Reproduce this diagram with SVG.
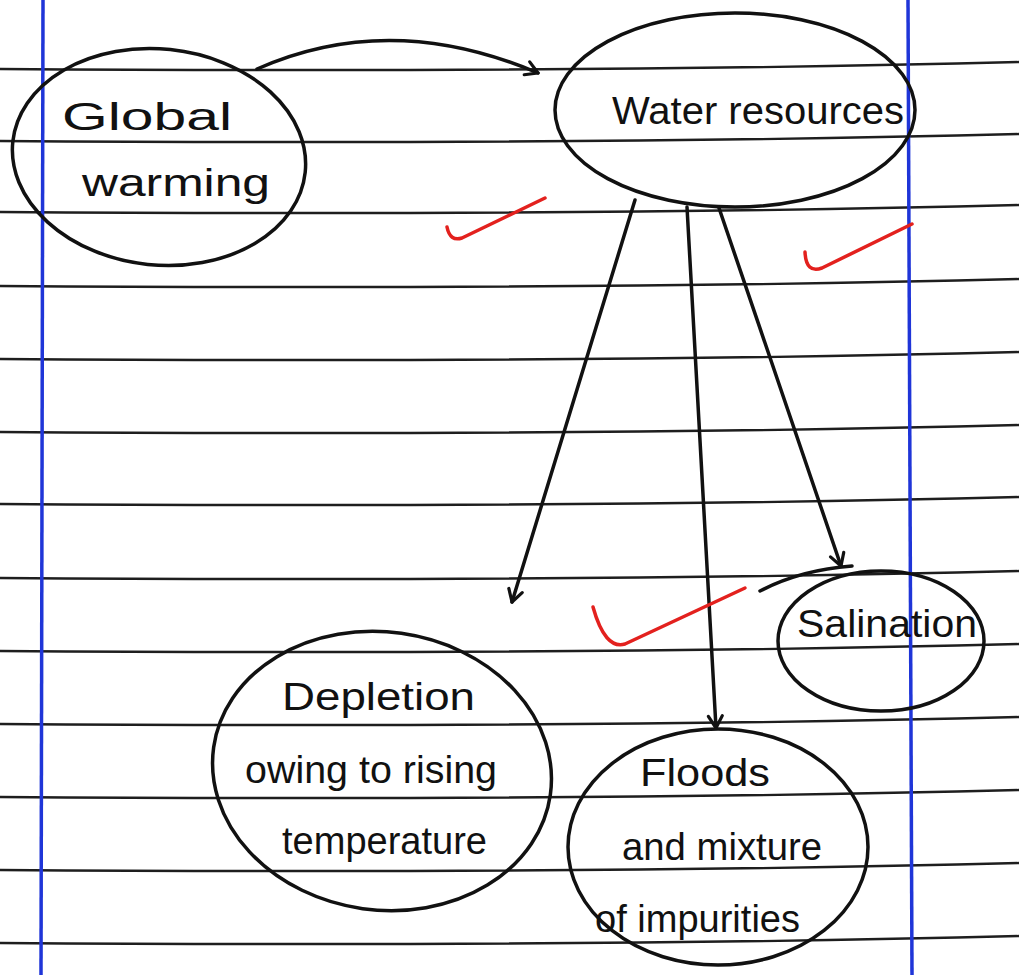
<svg xmlns="http://www.w3.org/2000/svg" width="1019" height="975" viewBox="0 0 1019 975">
<style>
.rule{fill:none;stroke:#1e1e1e;stroke-width:2.4}
.margin{fill:none;stroke:#1f35d8;stroke-width:3.5}
.node{fill:none;stroke:#111;stroke-width:3.5}
.edge{fill:none;stroke:#111;stroke-width:3.5;stroke-linecap:round;stroke-linejoin:round}
.tick{fill:none;stroke:#e3211e;stroke-width:3.5;stroke-linecap:round;stroke-linejoin:round}
.lbl{font-family:"Liberation Sans","DejaVu Sans",sans-serif;fill:#111;font-size:38px}
</style>
<defs>
<marker id="arr" viewBox="0 0 20 20" refX="16" refY="10" markerWidth="20" markerHeight="20" markerUnits="userSpaceOnUse" orient="auto">
<path d="M4,3 L16,10 L4,17" fill="none" stroke="#111" stroke-width="3.2" stroke-linecap="round" stroke-linejoin="round"/>
</marker>
</defs>
<rect width="1019" height="975" fill="#ffffff"/>
<g id="paper">
<path class="rule" d="M0,69 Q600,73 1019,62"/>
<path class="rule" d="M0,141 Q600,145 1019,134"/>
<path class="rule" d="M0,212 Q600,216 1019,205"/>
<path class="rule" d="M0,286 Q600,290 1019,279"/>
<path class="rule" d="M0,359 Q600,363 1019,352"/>
<path class="rule" d="M0,432 Q600,436 1019,425"/>
<path class="rule" d="M0,504 Q600,508 1019,497"/>
<path class="rule" d="M0,578 Q600,582 1019,571"/>
<path class="rule" d="M0,651 Q600,655 1019,644"/>
<path class="rule" d="M0,724 Q600,728 1019,717"/>
<path class="rule" d="M0,797 Q600,801 1019,790"/>
<path class="rule" d="M0,870 Q600,874 1019,863"/>
<path class="rule" d="M0,943 Q600,947 1019,936"/>
<path class="margin" d="M43,0 L41,975"/>
<path class="margin" d="M908,0 L912,975"/>
</g>
<g id="connectors">
<path class="edge" d="M257,69 Q390,10 538,73" marker-end="url(#arr)"/>
<path class="edge" d="M635,200 L512,602" marker-end="url(#arr)"/>
<path class="edge" d="M687,207 L716,728" marker-end="url(#arr)"/>
<path class="edge" d="M719,208 L841,566" marker-end="url(#arr)"/>
</g>
<g id="global-warming">
<ellipse class="node" cx="159" cy="157" rx="147" ry="108" transform="rotate(6 159 157)"/>
<text class="lbl" x="62" y="130" font-size="50" textLength="170" lengthAdjust="spacingAndGlyphs">Global</text>
<text class="lbl" x="82" y="196" font-size="42" textLength="188" lengthAdjust="spacingAndGlyphs">warming</text>
</g>
<g id="water-resources">
<ellipse class="node" cx="735" cy="110" rx="180" ry="97"/>
<text class="lbl" x="612" y="124" font-size="42" textLength="292" lengthAdjust="spacingAndGlyphs">Water resources</text>
</g>
<g id="salination">
<ellipse class="node" cx="881" cy="641" rx="103" ry="70"/>
<path class="edge" d="M760,591 Q800,570 852,566"/>
<text class="lbl" x="797" y="637" font-size="36" textLength="180" lengthAdjust="spacingAndGlyphs">Salination</text>
</g>
<g id="depletion">
<ellipse class="node" cx="382" cy="771" rx="170" ry="139" transform="rotate(8 382 771)"/>
<text class="lbl" x="282" y="710" font-size="50" textLength="193" lengthAdjust="spacingAndGlyphs">Depletion</text>
<text class="lbl" x="245" y="783" font-size="40" textLength="252" lengthAdjust="spacingAndGlyphs">owing to rising</text>
<text class="lbl" x="282" y="854" font-size="40" textLength="205" lengthAdjust="spacingAndGlyphs">temperature</text>
</g>
<g id="floods">
<ellipse class="node" cx="718" cy="847" rx="150" ry="118"/>
<text class="lbl" x="640" y="786" font-size="40" textLength="130" lengthAdjust="spacingAndGlyphs">Floods</text>
<text class="lbl" x="622" y="860" font-size="40" textLength="200" lengthAdjust="spacingAndGlyphs">and mixture</text>
<text class="lbl" x="595" y="932" font-size="40" textLength="205" lengthAdjust="spacingAndGlyphs">of impurities</text>
</g>
<g id="ticks">
<path class="tick" d="M447,227 Q450,242 462,238 L545,198"/>
<path class="tick" d="M805,252 Q806,274 822,268 L912,224"/>
<path class="tick" d="M593,607 Q605,650 625,644 L745,588"/>
</g>
</svg>
